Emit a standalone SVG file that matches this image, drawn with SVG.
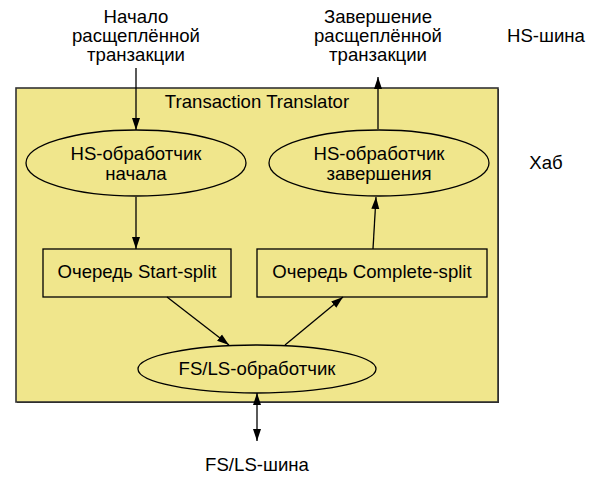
<svg xmlns="http://www.w3.org/2000/svg" width="603" height="495" viewBox="0 0 603 495">
<style>
text{font-family:"Liberation Sans",Arial,sans-serif;font-size:18.6px;fill:#000;text-anchor:middle}
.n{fill:#F0E68C;stroke:#000;stroke-width:1.3}
.c{stroke:#000;stroke-width:1.3;fill:none}
</style>
<defs>
<marker id="ah" viewBox="0 0 12 10" refX="12" refY="5" markerWidth="12" markerHeight="10" markerUnits="userSpaceOnUse" orient="auto-start-reverse">
<path d="M0,1 L12,5 L0,9 Z" fill="#000"/>
</marker>
</defs>
<rect width="603" height="495" fill="#fff"/>
<g id="hub">
<rect x="17" y="89" width="482" height="314" fill="#222"/>
<rect x="16" y="88" width="482" height="314" fill="#F0E68C" stroke="#333" stroke-width="1.6"/>
<text x="257" y="108">Transaction Translator</text>
</g>
<g id="labels">
<text x="136" y="23">Начало</text>
<text x="136" y="42">расщеплённой</text>
<text x="136" y="61">транзакции</text>
<text x="378" y="23">Завершение</text>
<text x="378" y="42">расщеплённой</text>
<text x="378" y="61">транзакции</text>
<text x="546" y="42">HS-шина</text>
<text x="546" y="169">Хаб</text>
<text x="257" y="471">FS/LS-шина</text>
</g>
<g id="hs-start">
<ellipse cx="136" cy="163" rx="110" ry="33" class="n"/>
<text x="136" y="160">HS-обработчик</text>
<text x="136" y="180">начала</text>
</g>
<g id="hs-complete">
<ellipse cx="379" cy="163" rx="110" ry="33" class="n"/>
<text x="379" y="160">HS-обработчик</text>
<text x="379" y="180">завершения</text>
</g>
<g id="q-start">
<rect x="43" y="249" width="188" height="48" class="n"/>
<text x="137" y="278">Очередь Start-split</text>
</g>
<g id="q-complete">
<rect x="257" y="249" width="230" height="48" class="n"/>
<text x="372" y="278">Очередь Complete-split</text>
</g>
<g id="fsls">
<ellipse cx="257" cy="369" rx="119" ry="24" class="n"/>
<text x="257" y="375">FS/LS-обработчик</text>
</g>
<g id="connectors">
<line x1="136" y1="68" x2="136" y2="130" class="c" marker-end="url(#ah)"/>
<line x1="378" y1="129" x2="378" y2="77" class="c" marker-end="url(#ah)"/>
<line x1="136" y1="197" x2="136" y2="249" class="c" marker-end="url(#ah)"/>
<line x1="373" y1="249" x2="376" y2="197" class="c" marker-end="url(#ah)"/>
<line x1="167" y1="297" x2="229" y2="345" class="c" marker-end="url(#ah)"/>
<line x1="285" y1="345" x2="343" y2="297" class="c" marker-end="url(#ah)"/>
<line x1="257" y1="393" x2="257" y2="441" class="c" marker-start="url(#ah)" marker-end="url(#ah)"/>
</g>
</svg>
